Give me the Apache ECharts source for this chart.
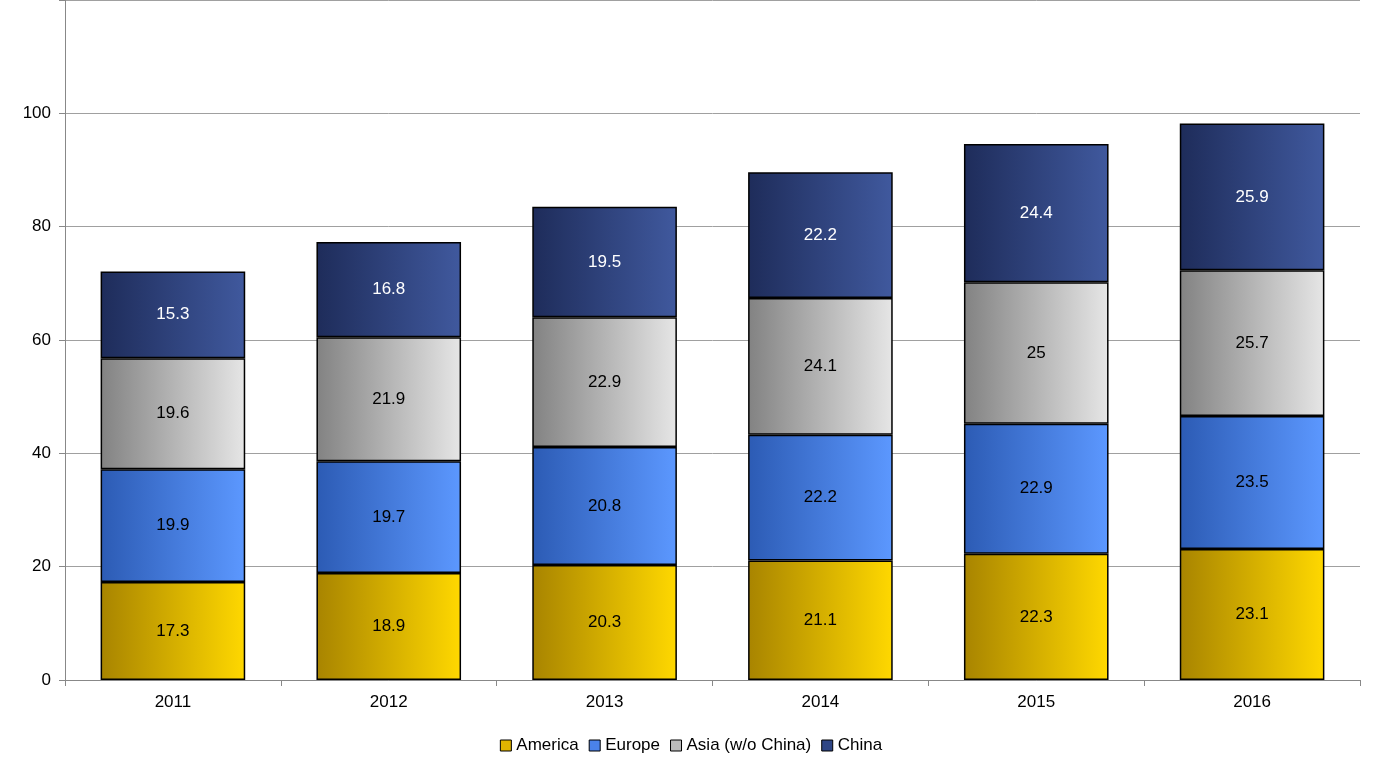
<!DOCTYPE html>
<html><head><meta charset="utf-8">
<script src="https://cdn.jsdelivr.net/npm/echarts@6/dist/echarts.min.js"></script>
<style>html,body{margin:0;padding:0;background:#fff}#c{width:1382px;height:775px}</style>
</head><body><div id="c"></div>
<script>
const categories = ['2011','2012','2013','2014','2015','2016'];
const america = [17.3,18.9,20.3,21.1,22.3,23.1];
const europe = [19.9,19.7,20.8,22.2,22.9,23.5];
const asia = [19.6,21.9,22.9,24.1,25,25.7];
const china = [15.3,16.8,19.5,22.2,24.4,25.9];
function grad(a,b){return new echarts.graphic.LinearGradient(0,0,1,0,[{offset:0,color:a},{offset:1,color:b}]);}
function s(name,data,c1,c2,lc,legendColor){
  return {name,type:'bar',stack:'t',data,barWidth:'67%',
    itemStyle:{color:grad(c1,c2),borderColor:'#000',borderWidth:1.5},
    label:{show:true,position:'inside',color:lc,fontSize:17,fontFamily:'Liberation Sans'}};
}
const chart = echarts.init(document.getElementById('c'));
chart.setOption({
  animation:false,
  grid:{left:65,right:22,top:-9,bottom:95},
  legend:{bottom:16,itemWidth:11,itemHeight:11,itemGap:10,icon:'rect',
    textStyle:{fontSize:17,fontFamily:'Liberation Sans',color:'#000'},
    data:[{name:'America',itemStyle:{color:'#e0b400',borderColor:'#000',borderWidth:1}},
          {name:'Europe',itemStyle:{color:'#4a82ea',borderColor:'#000',borderWidth:1}},
          {name:'Asia (w/o China)',itemStyle:{color:'#bbbbbb',borderColor:'#000',borderWidth:1}},
          {name:'China',itemStyle:{color:'#2e4585',borderColor:'#000',borderWidth:1}}]},
  xAxis:{type:'category',data:categories,
    axisLine:{lineStyle:{color:'#888'}},axisTick:{show:true,lineStyle:{color:'#888'},length:6},
    axisLabel:{fontSize:17,fontFamily:'Liberation Sans',color:'#000',margin:14}},
  yAxis:{type:'value',min:0,max:120,interval:20,
    axisLine:{show:true,lineStyle:{color:'#888'}},axisTick:{show:true,lineStyle:{color:'#888'},length:6},
    splitLine:{lineStyle:{color:'#a0a0a0'}},
    axisLabel:{fontSize:17,fontFamily:'Liberation Sans',color:'#000',margin:14,
      formatter:v=>v===120?'':v}},
  series:[
    s('America',america,'#a88400','#ffd800','#000'),
    s('Europe',europe,'#2c5bb4','#5c98ff','#000'),
    s('Asia (w/o China)',asia,'#828282','#e6e6e6','#000'),
    s('China',china,'#1e2c5a','#40599e','#fff')
  ]
});
</script></body></html>
